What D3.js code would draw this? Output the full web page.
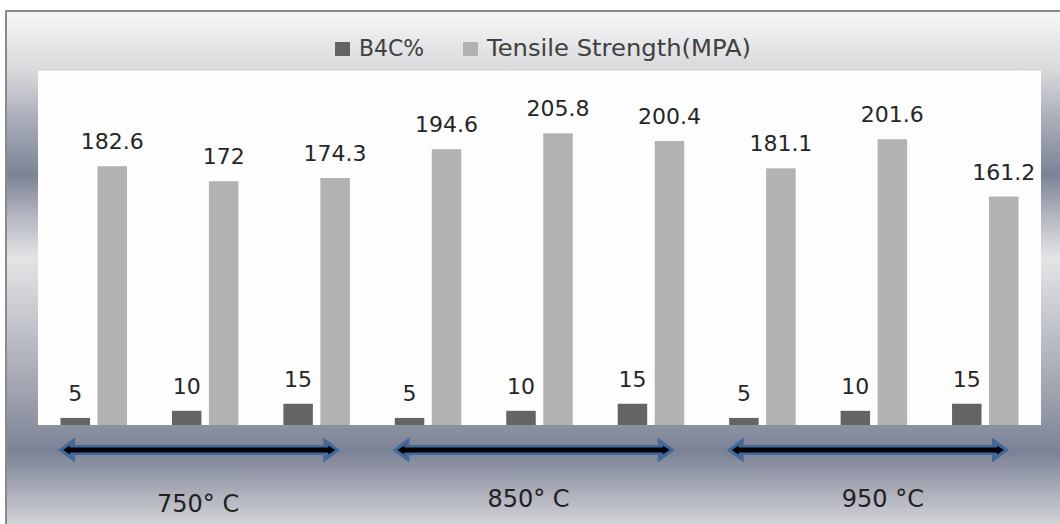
<!DOCTYPE html>
<html><head><meta charset="utf-8">
<script src="https://cdn.jsdelivr.net/npm/d3@7"></script>
<style>body{margin:0;background:#fff}svg{display:block}</style>
</head><body><svg id="c" width="1060" height="524"></svg>
<script>
// ---- data ----
const categories = ["750-5","750-10","750-15","850-5","850-10","850-15","950-5","950-10","950-15"];
const seriesNames = ["B4C%","Tensile Strength(MPA)"];
const b4cValues = [5,10,15,5,10,15,5,10,15];
const tensileValues = [182.6,172,174.3,194.6,205.8,200.4,181.1,201.6,161.2];
const groupLabels = ["750° C","850° C","950 °C"];
const groupMembers = [[0,2],[3,5],[6,8]];

// ---- layout ----
const W = 1060, H = 524;
const plot = {x0: 38, x1: 1041, y0: 70.7, y1: 425};
const colors = {"B4C%": "#646464", "Tensile Strength(MPA)": "#b2b2b2"};
const groupLabelDx = [-7, -11, 9];
const groupLabelY = [512, 507, 507];

const svg = d3.select("#c");
const defs = svg.append("defs");
const grad = defs.append("linearGradient").attr("id","bg")
  .attr("gradientUnits","userSpaceOnUse").attr("x1",0).attr("y1",10).attr("x2",0).attr("y2",524);
[[10,"#f8f8f8"],[70,"#d8d9db"],[120,"#a9adb9"],[175,"#7c8296"],[215,"#b2b5bf"],[258,"#e4e4e6"],
 [330,"#c0c2c9"],[400,"#9b9fac"],[452,"#7c8296"],[490,"#a9acb7"],[524,"#d2d3d8"]]
 .forEach(([y,c]) => grad.append("stop").attr("offset", (y-10)/514).attr("stop-color", c));

svg.append("rect").attr("x",6).attr("y",11).attr("width",W).attr("height",H).attr("fill","url(#bg)");
svg.append("path").attr("d",`M6,${H} V11 H${W}`).attr("fill","none").attr("stroke","#8a8a8a").attr("stroke-width",2);

svg.append("rect").attr("x",plot.x0).attr("y",plot.y0).attr("width",plot.x1-plot.x0).attr("height",plot.y1-plot.y0).attr("fill","#fdfdfd");

const x0 = d3.scaleBand().domain(categories).range([plot.x0, plot.x1]).padding(0);
const x1 = d3.scaleBand().domain(seriesNames).range([0, x0.bandwidth()]).paddingInner(0.203).paddingOuter(0.608);
const y = d3.scaleLinear().domain([0, 250]).range([plot.y1, plot.y0]);

const rows = categories.map((c,i) => ({cat:c, vals:[{s:seriesNames[0], v:b4cValues[i]},{s:seriesNames[1], v:tensileValues[i]}]}));

const g = svg.append("g");
const cg = g.selectAll("g.cat").data(rows).join("g").attr("class","cat")
  .attr("transform", d => `translate(${x0(d.cat)},0)`);
cg.selectAll("rect").data(d => d.vals).join("rect")
  .attr("x", d => x1(d.s)).attr("width", x1.bandwidth())
  .attr("y", d => y(d.v)).attr("height", d => y(0) - y(d.v))
  .attr("fill", d => colors[d.s]);
cg.selectAll("text").data(d => d.vals).join("text")
  .attr("x", d => x1(d.s) + x1.bandwidth()/2).attr("y", d => y(d.v) - 17)
  .attr("text-anchor","middle").attr("font-family","DejaVu Sans").attr("font-size",22)
  .attr("fill","#262626").text(d => String(d.v));

// legend
const lg = svg.append("g");
const legendItems = [{s:seriesNames[0], x:335, tx:359, len:65},{s:seriesNames[1], x:463, tx:487, len:264}];
legendItems.forEach(it => {
  lg.append("rect").attr("x",it.x).attr("y",42).attr("width",15).attr("height",14).attr("fill",colors[it.s]);
  lg.append("text").attr("x",it.tx).attr("y",56).attr("font-family","DejaVu Sans").attr("font-size",23)
    .attr("textLength", it.len).attr("lengthAdjust","spacingAndGlyphs")
    .attr("fill","#404040").text(it.s);
});

// group arrows and labels
const ag = svg.append("g");
groupMembers.forEach(([a,b], i) => {
  const xa = x0(categories[a]) + 20, xb = x0(categories[b]) + x0.bandwidth() - 32, cy = 450;
  const hl = 17, hh = 12.5, sh = 5;
  const pts = [[xa,cy],[xa+hl,cy-hh],[xa+hl,cy-sh],[xb-hl,cy-sh],[xb-hl,cy-hh],[xb,cy],
               [xb-hl,cy+hh],[xb-hl,cy+sh],[xa+hl,cy+sh],[xa+hl,cy+hh]];
  ag.append("polygon").attr("points", pts.map(p=>p.join(",")).join(" ")).attr("fill","#41699c");
  ag.append("line").attr("x1",xa+9).attr("x2",xb-9).attr("y1",cy).attr("y2",cy)
    .attr("stroke","#000").attr("stroke-width",5);
  ag.append("polygon").attr("points",`${xa+5},${cy} ${xa+12},${cy-4.5} ${xa+12},${cy+4.5}`).attr("fill","#000");
  ag.append("polygon").attr("points",`${xb-5},${cy} ${xb-12},${cy-4.5} ${xb-12},${cy+4.5}`).attr("fill","#000");
  const mid = x0(categories[a+1]) + x0.bandwidth()/2;
  ag.append("text").attr("x", mid + groupLabelDx[i]).attr("y", groupLabelY[i])
    .attr("text-anchor","middle").attr("font-family","DejaVu Sans").attr("font-size",24)
    .attr("fill","#222").text(groupLabels[i]);
});
</script></body></html>
